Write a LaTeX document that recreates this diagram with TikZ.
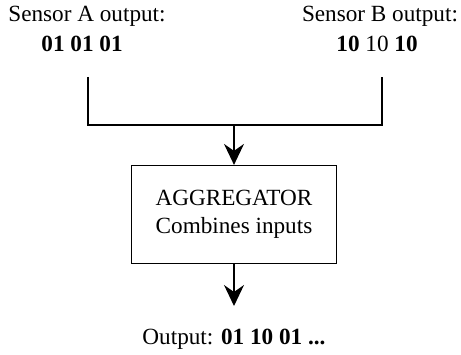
\documentclass[tikz,border=0pt]{standalone}
\usepackage{fontspec}
\setmainfont{Liberation Serif}
\usetikzlibrary{arrows.meta}
\begin{document}
\begin{tikzpicture}[x=1pt,y=-1pt,
  lbl/.style={font=\fontsize{23.2}{27}\selectfont, inner sep=0pt, align=center},
  wire/.style={line width=1.2pt},
  arr/.style={wire, -{Stealth[length=21pt,width=20pt,inset=7pt]}},
  boxstyle/.style={draw, line width=1.2pt, minimum width=205pt, minimum height=98pt, inner sep=0pt, align=center, font=\fontsize{23.2}{28}\selectfont}]
\useasboundingbox (0,0) rectangle (461,355);
\node[lbl, anchor=base] (sa) at (87,22) {Sensor A output:};
\node[lbl, anchor=base] (sav) at (82,52) {\textbf{01 01 01}};
\node[lbl, anchor=base] (sb) at (380,22) {Sensor B output:};
\node[lbl, anchor=base] (sbv) at (377,52) {\textbf{10} 10 \textbf{10}};
\coordinate (la) at (88,77);
\coordinate (lb) at (88,125);
\coordinate (ra) at (382,77);
\coordinate (rb) at (382,125);
\coordinate (mid) at (234,125);
\node[boxstyle] (agg) at (234,214.5) {AGGREGATOR\\Combines inputs};
\coordinate (outtip) at (234,306);
\node[lbl, anchor=base] (out) at (234,345) {Output: \textbf{01 10 01 ...}};
\draw[wire] (la) -- (lb) -- (rb) -- (ra);
\draw[arr] (mid) -- (agg.north);
\draw[arr] (agg.south) -- (outtip);
\end{tikzpicture}
\end{document}
